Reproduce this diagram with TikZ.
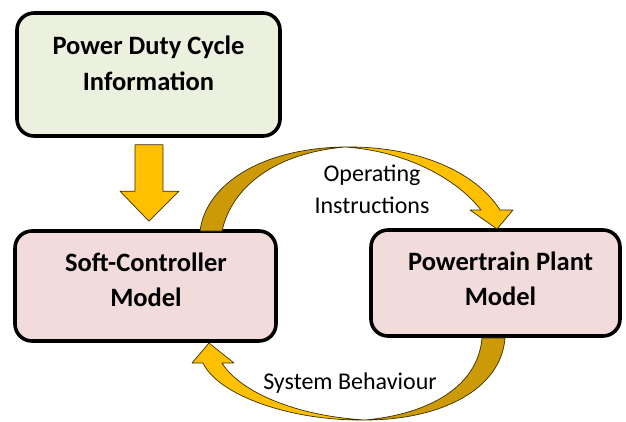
\documentclass[tikz,border=0pt]{standalone}
\usepackage{fontspec}
\setmainfont{Carlito}
\usetikzlibrary{calc}

\definecolor{boxgreen}{HTML}{EBF1DE}
\definecolor{boxpink}{HTML}{F2DCDB}
\definecolor{gold}{HTML}{FFC000}
\definecolor{darkgold}{HTML}{CC9A06}
\definecolor{arrowline}{HTML}{3A2E00}

\tikzset{
  box/.style={draw=black, line width=3.6pt, rounded corners=17pt, inner sep=0pt},
  boxtext/.style={font=\fontsize{26.5}{35.5}\selectfont\bfseries, align=center, text=black, inner sep=0pt},
  looptext/.style={font=\fontsize{24}{32}\selectfont, align=center, text=black, inner sep=0pt},
  frontface/.style={fill=gold, draw=arrowline, line width=0.7pt, line join=round},
  backface/.style={fill=darkgold, draw=arrowline, line width=0.7pt, line join=round},
}

\begin{document}
\begin{tikzpicture}[x=1pt, y=-1pt]
  \useasboundingbox (0,0) rectangle (626,422);

  % the three model blocks
  \node[box, fill=boxgreen, minimum width=263pt, minimum height=123pt] (duty) at (148.5,74.5) {};
  \node[box, fill=boxpink, minimum width=261pt, minimum height=110pt] (soft) at (145.5,286) {};
  \node[box, fill=boxpink, minimum width=249pt, minimum height=106pt] (plant) at (495.5,283) {};

  \node[boxtext] (dutytext) at (148.5,63.5) {Power Duty Cycle\\Information};
  \node[boxtext] (softtext) at (146,280) {Soft-Controller\\Model};
  \node[boxtext] (planttext) at (500.5,279) {Powertrain Plant\\Model};

  % block arrow feeding the duty cycle into the controller
  \coordinate (feedtop) at ($(duty.south)+(0.5,7)$);
  \coordinate (feedtip) at ($(soft.north)+(3.5,-8)$);
  \draw[frontface]
    ($(feedtop)+(-14,0)$) -- ($(feedtop)+(14,0)$) -- ($(feedtip)+(14,-30)$)
    -- ($(feedtip)+(30,-30)$) -- (feedtip) -- ($(feedtip)+(-29,-30)$)
    -- ($(feedtip)+(-14,-30)$) -- cycle;

  % curved arrow: controller -> plant
  \coordinate (opfootout) at (200,231);
  \coordinate (opfootin) at (222,231);
  \coordinate (optop) at (345,147);
  \coordinate (optip) at (497,229);
  \draw[backface] (opfootout) .. controls (206,184) and (262,148) .. (optop)
    .. controls (276,153) and (232,186) .. (opfootin) -- cycle;
  \draw[frontface] (optop) .. controls (418,146) and (476,172) .. (500,210)
    -- (513,210) -- (optip) -- (470,210) -- (481,210)
    .. controls (456,178) and (405,151) .. (optop) -- cycle;

  % curved arrow: plant -> controller
  \coordinate (sbfootout) at (505,338);
  \coordinate (sbfootin) at (482,338);
  \coordinate (sbbottom) at (365,420);
  \coordinate (sbtip) at (209,343);
  \draw[backface] (sbfootout) .. controls (501,390) and (440,420) .. (sbbottom)
    .. controls (430,414) and (478,386) .. (sbfootin) -- cycle;
  \draw[frontface] (sbbottom) .. controls (290,421) and (218,395) .. (203,363)
    -- (192,363) -- (sbtip) -- (234,363) -- (222,363)
    .. controls (240,392) and (296,416) .. (sbbottom) -- cycle;

  % loop labels
  \node[looptext] (optext) at (372,189) {Operating\\Instructions};
  \node[looptext] (sbtext) at (350,383) {System Behaviour};
\end{tikzpicture}
\end{document}
